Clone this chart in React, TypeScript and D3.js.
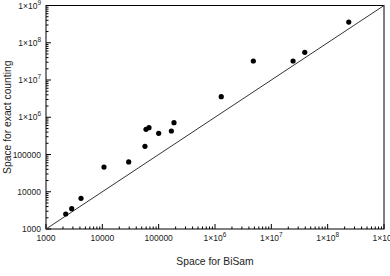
import React, { useEffect, useRef } from 'react';
import * as d3 from 'd3';

// Space for BiSam (x) vs space for exact counting (y)
const bisamSpace = [2240, 2860, 4180, 10700, 29400, 57100, 59600, 67300, 100000, 168000, 187000, 1290000, 4790000, 24300000, 39200000, 237000000];
const exactSpace = [2530, 3510, 6670, 46100, 63000, 166000, 475000, 524000, 371000, 428000, 714000, 3560000, 32400000, 32400000, 55400000, 360000000];
const tickValues = [1e3, 1e4, 1e5, 1e6, 1e7, 1e8, 1e9];
const tickLabels = ['1000', '10000', '100000', '1×10|6', '1×10|7', '1×10|8', '1×10|9'];
const diagonal = [1e3, 1e9];

const App = () => {
  const ref = useRef<SVGSVGElement>(null);

  useEffect(() => {
    const svg = d3.select(ref.current);
    svg.selectAll('*').remove();

    const margin = { top: 5.5, right: 6, bottom: 47, left: 46 };
    const width = 390;
    const height = 276;

    const x = d3.scaleLog().domain([1e3, 1e9]).range([margin.left, width - margin.right]);
    const y = d3.scaleLog().domain([1e3, 1e9]).range([height - margin.bottom, margin.top]);

    const font = 'Liberation Sans, Arial, sans-serif';

    // frame
    svg.append('rect')
      .attr('x', x(1e3)).attr('y', y(1e9))
      .attr('width', x(1e9) - x(1e3)).attr('height', y(1e3) - y(1e9))
      .attr('fill', 'none').attr('stroke', '#000').attr('stroke-width', 1);

    // minor + major ticks pointing inward
    const minor: number[] = [];
    for (let e = 3; e < 9; e++) for (let m = 2; m < 10; m++) minor.push(m * Math.pow(10, e));

    const g = svg.append('g').attr('stroke', '#000').attr('stroke-width', 1);
    minor.forEach(v => {
      g.append('line').attr('x1', x(v)).attr('x2', x(v)).attr('y1', y(1e3)).attr('y2', y(1e3) - 2.5);
      g.append('line').attr('y1', y(v)).attr('y2', y(v)).attr('x1', x(1e3)).attr('x2', x(1e3) + 2.5);
    });
    tickValues.forEach(v => {
      g.append('line').attr('x1', x(v)).attr('x2', x(v)).attr('y1', y(1e3)).attr('y2', y(1e3) - 5);
      g.append('line').attr('y1', y(v)).attr('y2', y(v)).attr('x1', x(1e3)).attr('x2', x(1e3) + 5);
    });

    const addLabel = (sel: any, lbl: string) => {
      const [base, sup] = lbl.split('|');
      sel.append('tspan').text(base);
      if (sup) sel.append('tspan').attr('dy', -4).attr('font-size', 6.5).text(sup);
    };

    tickValues.forEach((v, i) => {
      const tx = svg.append('text')
        .attr('x', x(v)).attr('y', y(1e3) + 12)
        .attr('text-anchor', 'middle')
        .attr('font-family', font).attr('font-size', 8.5).attr('fill', '#222');
      addLabel(tx, tickLabels[i]);
      const ty = svg.append('text')
        .attr('x', 41).attr('y', y(v) + 3)
        .attr('text-anchor', 'end')
        .attr('font-family', font).attr('font-size', 8.5).attr('fill', '#222');
      addLabel(ty, tickLabels[i]);
    });

    // y = x reference line
    svg.append('line')
      .attr('x1', x(diagonal[0])).attr('y1', y(diagonal[0]))
      .attr('x2', x(diagonal[1])).attr('y2', y(diagonal[1]))
      .attr('stroke', '#333').attr('stroke-width', 1);

    svg.append('g').selectAll('circle')
      .data(bisamSpace)
      .enter().append('circle')
        .attr('cx', d => x(d))
        .attr('cy', (d, i) => y(exactSpace[i]))
        .attr('r', 2.6)
        .attr('fill', '#000');

    svg.append('text')
      .attr('x', 215).attr('y', 265)
      .attr('text-anchor', 'middle')
      .attr('font-family', font).attr('font-size', 10.3).attr('fill', '#222')
      .text('Space for BiSam');

    svg.append('text')
      .attr('transform', `translate(11, ${(y(1e3) + y(1e9)) / 2}) rotate(-90)`)
      .attr('text-anchor', 'middle')
      .attr('font-family', font).attr('font-size', 10.3).attr('fill', '#222')
      .text('Space for exact counting');
  }, []);

  return (
    <div style={{ position: 'absolute', left: 0, top: 0 }}>
      <svg ref={ref} width="390" height="276" style={{ display: 'block', background: '#fff' }}></svg>
    </div>
  );
};

export default App;
